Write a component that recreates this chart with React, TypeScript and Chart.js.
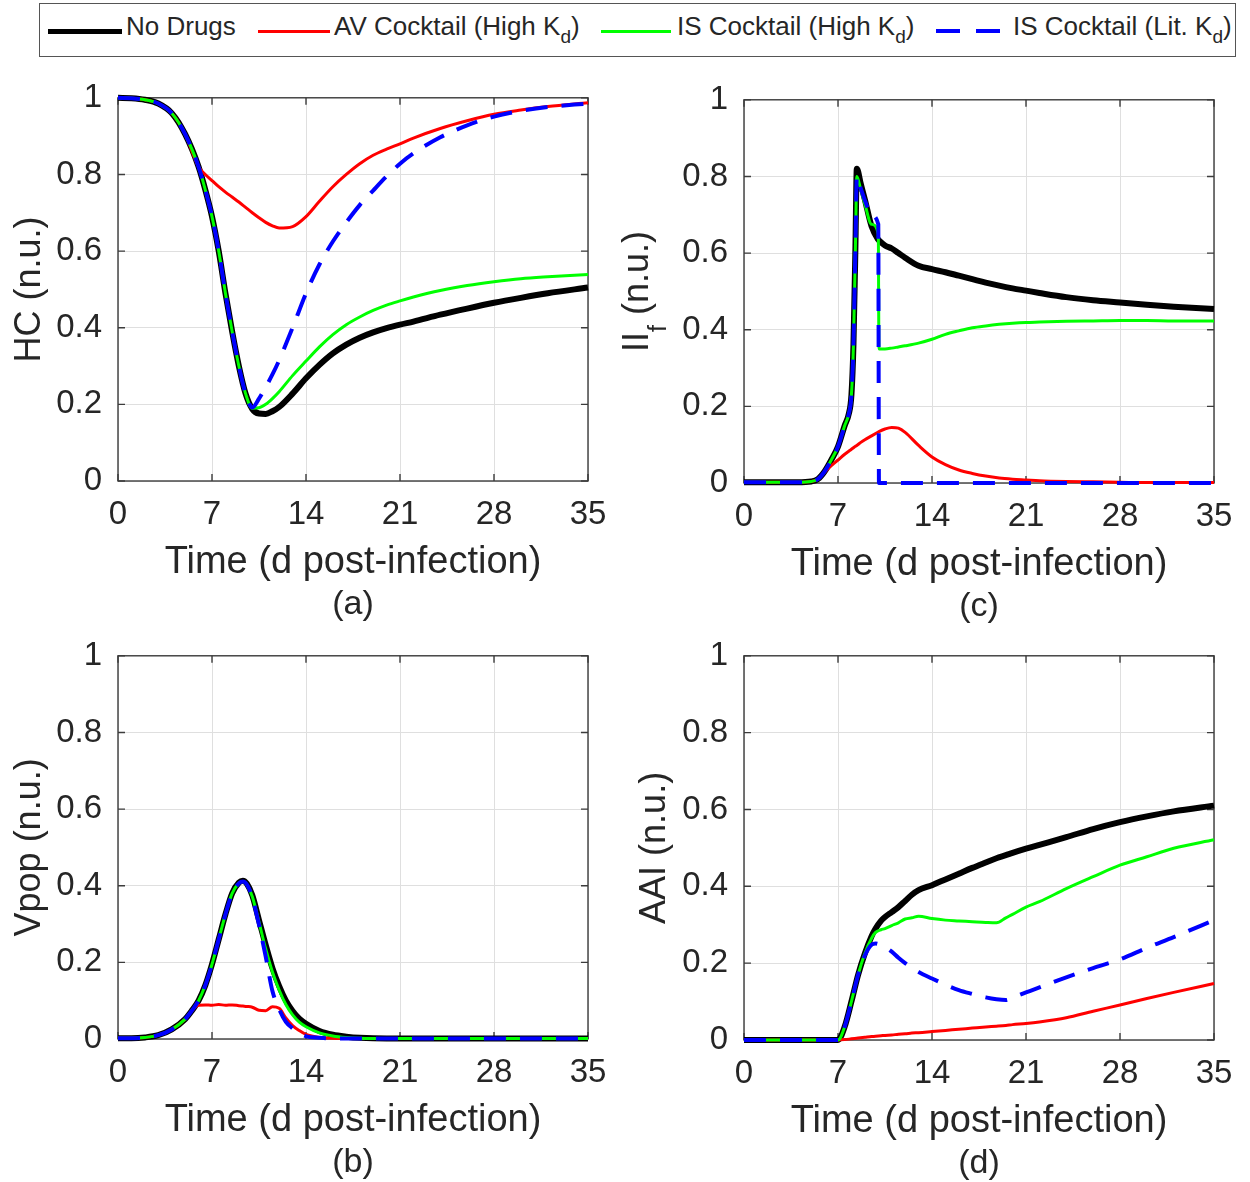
import React, { useEffect, useRef } from 'react';
import { Chart, registerables } from 'chart.js';

Chart.register(...registerables);

const FONT = '"Liberation Sans", Arial, Helvetica, sans-serif';
const TEXT_COLOR = '#262626';
const GRID_COLOR = '#dfdfdf';
const BOX_COLOR = '#3c3c3c';

// ---------- shared labels ----------
const xTickLabels = ['0', '7', '14', '21', '28', '35'];
const yTickLabels = ['0', '0.2', '0.4', '0.6', '0.8', '1'];
const xAxisTitle = 'Time (d post-infection)';
const seriesNames = ['No Drugs', 'AV Cocktail (High Kd)', 'IS Cocktail (High Kd)', 'IS Cocktail (Lit. Kd)'];
const legendMain = ['No Drugs', 'AV Cocktail (High K', 'IS Cocktail (High K', 'IS Cocktail (Lit. K'];
const legendSub = ['', 'd', 'd', 'd'];
const legendTail = ['', ')', ')', ')'];
const seriesColors = ['#000000', '#ff0000', '#00ff00', '#0000ff'];
const lineWidths = [6, 3, 3, 4];
const lineDashes: number[][] = [[], [], [], [22, 14]];
const drawOrder = [4, 3, 2, 1];

// ---------- panel (a): HC ----------
const hcTime = [0, 1, 2, 3, 4, 5, 6, 6.5, 7, 7.5, 8, 8.5, 9, 9.5, 10, 10.5, 11, 11.5, 12, 13, 14, 15, 16, 17, 18, 19, 20, 21, 22, 24, 26, 28, 30, 32, 35];
const hcNoDrugs = [1.0, 0.999, 0.995, 0.985, 0.96, 0.905, 0.82, 0.76, 0.69, 0.6, 0.49, 0.39, 0.3, 0.228, 0.188, 0.176, 0.175, 0.182, 0.193, 0.228, 0.268, 0.303, 0.333, 0.356, 0.374, 0.388, 0.399, 0.408, 0.416, 0.434, 0.45, 0.465, 0.478, 0.49, 0.505];
const hcAV = [1.0, 0.999, 0.995, 0.985, 0.96, 0.905, 0.82, 0.8, 0.784, 0.768, 0.754, 0.741, 0.728, 0.714, 0.7, 0.687, 0.675, 0.666, 0.66, 0.664, 0.69, 0.73, 0.768, 0.8, 0.828, 0.85, 0.866, 0.88, 0.895, 0.92, 0.94, 0.957, 0.968, 0.977, 0.987];
const hcISHigh = [1.0, 0.999, 0.995, 0.985, 0.96, 0.905, 0.82, 0.76, 0.69, 0.6, 0.49, 0.39, 0.3, 0.228, 0.19, 0.191, 0.2, 0.215, 0.233, 0.275, 0.313, 0.35, 0.382, 0.408, 0.428, 0.445, 0.459, 0.47, 0.48, 0.497, 0.51, 0.52, 0.528, 0.533, 0.539];
const hcISLit = [1.0, 0.999, 0.995, 0.985, 0.96, 0.905, 0.82, 0.76, 0.69, 0.6, 0.49, 0.39, 0.3, 0.228, 0.192, 0.215, 0.245, 0.278, 0.315, 0.4, 0.49, 0.565, 0.625, 0.675, 0.72, 0.758, 0.795, 0.828, 0.855, 0.897, 0.928, 0.951, 0.966, 0.976, 0.985];

// ---------- panel (c): II_f ----------
const iiTime = [0, 1, 2, 3, 4, 5, 5.5, 6, 6.5, 7, 7.5, 7.8, 8, 8.15, 8.3, 8.4, 8.7, 9, 9.5, 10, 10.05, 10.5, 11, 11.5, 12, 13, 14, 15, 16, 17, 18, 19, 20, 21, 22, 24, 26, 28, 30, 32, 35];
const iiNoDrugs = [0.002, 0.002, 0.002, 0.002, 0.002, 0.004, 0.01, 0.03, 0.06, 0.095, 0.15, 0.18, 0.23, 0.36, 0.62, 0.82, 0.78, 0.74, 0.67, 0.635, 0.633, 0.62, 0.612, 0.6, 0.588, 0.567, 0.558, 0.55, 0.541, 0.532, 0.523, 0.515, 0.508, 0.502, 0.496, 0.485, 0.477, 0.471, 0.465, 0.46, 0.454];
const iiAV = [0.002, 0.002, 0.002, 0.002, 0.002, 0.004, 0.01, 0.028, 0.045, 0.06, 0.075, 0.083, 0.088, 0.092, 0.096, 0.098, 0.106, 0.113, 0.123, 0.133, 0.134, 0.141, 0.145, 0.143, 0.132, 0.098, 0.068, 0.048, 0.034, 0.025, 0.018, 0.013, 0.01, 0.008, 0.006, 0.004, 0.003, 0.002, 0.001, 0.001, 0.001];
const iiISHigh = [0.002, 0.002, 0.002, 0.002, 0.002, 0.004, 0.01, 0.03, 0.06, 0.095, 0.15, 0.18, 0.23, 0.36, 0.62, 0.8, 0.765, 0.728, 0.675, 0.65, 0.35, 0.35, 0.352, 0.355, 0.358, 0.365, 0.375, 0.388, 0.397, 0.405, 0.41, 0.414, 0.417, 0.419, 0.42, 0.422, 0.423, 0.424, 0.424, 0.423, 0.423];
const iiISLit = [0.002, 0.002, 0.002, 0.002, 0.002, 0.004, 0.01, 0.03, 0.06, 0.095, 0.15, 0.18, 0.23, 0.36, 0.62, 0.8, 0.768, 0.738, 0.698, 0.675, 0, 0, 0, 0, 0, 0, 0, 0, 0, 0, 0, 0, 0, 0, 0, 0, 0, 0, 0, 0, 0];

// ---------- panel (b): Vpop ----------
const vTime = [0, 1, 2, 3, 4, 5, 5.5, 6, 6.5, 7, 7.5, 8, 8.5, 9, 9.3, 9.6, 10, 10.5, 11, 11.5, 12, 12.5, 13, 13.5, 14, 15, 16, 17, 18, 20, 22, 25, 28, 31, 35];
const vNoDrugs = [0.002, 0.002, 0.004, 0.01, 0.025, 0.052, 0.074, 0.1, 0.14, 0.195, 0.26, 0.325, 0.38, 0.408, 0.413, 0.405, 0.375, 0.31, 0.245, 0.185, 0.138, 0.1, 0.073, 0.053, 0.04, 0.021, 0.011, 0.006, 0.003, 0.001, 0.001, 0.001, 0.001, 0.001, 0.001];
const vAV = [0.002, 0.002, 0.004, 0.01, 0.025, 0.052, 0.074, 0.088, 0.089, 0.088, 0.09, 0.088, 0.089, 0.087, 0.086, 0.085, 0.083, 0.075, 0.074, 0.084, 0.08, 0.055, 0.035, 0.022, 0.012, 0.004, 0.002, 0.001, 0.001, 0.001, 0.001, 0.001, 0.001, 0.001, 0.001];
const vISHigh = [0.002, 0.002, 0.004, 0.01, 0.025, 0.052, 0.074, 0.1, 0.14, 0.195, 0.26, 0.325, 0.38, 0.406, 0.411, 0.403, 0.372, 0.305, 0.235, 0.175, 0.128, 0.09, 0.063, 0.044, 0.032, 0.016, 0.008, 0.004, 0.002, 0.001, 0.001, 0.001, 0.001, 0.001, 0.001];
const vISLit = [0.002, 0.002, 0.004, 0.01, 0.025, 0.052, 0.074, 0.1, 0.14, 0.195, 0.26, 0.325, 0.38, 0.406, 0.411, 0.403, 0.37, 0.298, 0.215, 0.125, 0.078, 0.045, 0.028, 0.015, 0.007, 0.003, 0.001, 0.001, 0.001, 0.001, 0.001, 0.001, 0.001, 0.001, 0.001];

// ---------- panel (d): AAI ----------
const aTime = [0, 1, 2, 3, 4, 5, 6, 7, 7.5, 8, 8.5, 9, 9.5, 9.8, 10.2, 10.5, 11, 11.5, 12, 12.5, 13, 14, 15, 16, 17, 18, 18.8, 19.5, 20, 21, 22, 24, 26, 28, 30, 32, 35];
const aNoDrugs = [0, 0, 0, 0, 0, 0, 0, 0, 0.035, 0.1, 0.17, 0.225, 0.27, 0.29, 0.31, 0.32, 0.333, 0.346, 0.362, 0.378, 0.39, 0.403, 0.418, 0.433, 0.448, 0.462, 0.473, 0.481, 0.487, 0.498, 0.508, 0.528, 0.549, 0.567, 0.582, 0.595, 0.61];
const aAV = [0, 0, 0, 0, 0, 0, 0, 0, 0.001, 0.003, 0.005, 0.007, 0.009, 0.01, 0.011, 0.012, 0.013, 0.015, 0.016, 0.018, 0.019, 0.022, 0.025, 0.028, 0.031, 0.034, 0.036, 0.038, 0.04, 0.043, 0.047, 0.058, 0.075, 0.091, 0.108, 0.124, 0.147];
const aISHigh = [0, 0, 0, 0, 0, 0, 0, 0, 0.035, 0.1, 0.17, 0.225, 0.265, 0.28, 0.287, 0.29, 0.298, 0.305, 0.315, 0.318, 0.322, 0.316, 0.312, 0.31, 0.308, 0.306, 0.305, 0.318, 0.327, 0.346, 0.36, 0.394, 0.425, 0.455, 0.477, 0.499, 0.521];
const aISLit = [0, 0, 0, 0, 0, 0, 0, 0, 0.035, 0.1, 0.17, 0.22, 0.248, 0.251, 0.247, 0.242, 0.23, 0.214, 0.2, 0.188, 0.177, 0.16, 0.144, 0.13, 0.12, 0.111, 0.106, 0.104, 0.11, 0.124, 0.137, 0.163, 0.187, 0.21, 0.24, 0.268, 0.312];

type TitlePart = { text: string; sub?: boolean };
type Panel = {
  letter: string;
  left: number;
  top: number;
  width: number;
  height: number;
  yAxisW: number;
  padRight: number;
  padTop: number;
  xAxisH: number;
  yTitleBaseline: number;
  yTitle: TitlePart[];
  time: number[];
  series: number[][];
};

const panels: Panel[] = [
  {
    letter: '(a)', left: 0, top: 62, width: 625, height: 560, yAxisW: 118, padRight: 37, padTop: 35, xAxisH: 141,
    yTitleBaseline: 40, yTitle: [{ text: 'HC (n.u.)' }],
    time: hcTime, series: [hcNoDrugs, hcAV, hcISHigh, hcISLit],
  },
  {
    letter: '(c)', left: 600, top: 64, width: 650, height: 560, yAxisW: 144, padRight: 36, padTop: 35, xAxisH: 141,
    yTitleBaseline: 48, yTitle: [{ text: 'II' }, { text: 'f', sub: true }, { text: ' (n.u.)' }],
    time: iiTime, series: [iiNoDrugs, iiAV, iiISHigh, iiISLit],
  },
  {
    letter: '(b)', left: 0, top: 620, width: 625, height: 560, yAxisW: 118, padRight: 37, padTop: 35, xAxisH: 141,
    yTitleBaseline: 40, yTitle: [{ text: 'Vpop (n.u.)' }],
    time: vTime, series: [vNoDrugs, vAV, vISHigh, vISLit],
  },
  {
    letter: '(d)', left: 600, top: 620, width: 650, height: 560, yAxisW: 144, padRight: 36, padTop: 35, xAxisH: 140,
    yTitleBaseline: 65, yTitle: [{ text: 'AAI (n.u.)' }],
    time: aTime, series: [aNoDrugs, aAV, aISHigh, aISLit],
  },
];

const framePlugin = {
  id: 'matlabFrame',
  beforeDatasetsDraw(chart: any) {
    const { ctx, chartArea: a, scales } = chart;
    ctx.save();
    ctx.strokeStyle = BOX_COLOR;
    ctx.lineWidth = 1.4;
    ctx.strokeRect(a.left, a.top, a.right - a.left, a.bottom - a.top);
    const L = 7;
    ctx.beginPath();
    scales.x.ticks.forEach((t: any) => {
      const px = scales.x.getPixelForValue(t.value);
      ctx.moveTo(px, a.bottom);
      ctx.lineTo(px, a.bottom - L);
      ctx.moveTo(px, a.top);
      ctx.lineTo(px, a.top + L);
    });
    scales.y.ticks.forEach((t: any) => {
      const py = scales.y.getPixelForValue(t.value);
      ctx.moveTo(a.left, py);
      ctx.lineTo(a.left + L, py);
      ctx.moveTo(a.right, py);
      ctx.lineTo(a.right - L, py);
    });
    ctx.stroke();
    ctx.restore();
  },
};

function makeTextPlugin(p: Panel) {
  return {
    id: 'panelText',
    afterDraw(chart: any) {
      const { ctx, chartArea: a } = chart;
      ctx.save();
      ctx.fillStyle = TEXT_COLOR;
      ctx.textBaseline = 'alphabetic';
      ctx.textAlign = 'center';
      const cx = (a.left + a.right) / 2;
      ctx.font = `38px ${FONT}`;
      ctx.fillText(xAxisTitle, cx, a.bottom + 92);
      ctx.font = `34px ${FONT}`;
      ctx.fillText(p.letter, cx, a.bottom + 133);

      const cy = (a.top + a.bottom) / 2;
      ctx.translate(p.yTitleBaseline, cy);
      ctx.rotate(-Math.PI / 2);
      ctx.textAlign = 'left';
      const fontFor = (part: TitlePart) => `${part.sub ? 25 : 36}px ${FONT}`;
      const widths = p.yTitle.map((part) => {
        ctx.font = fontFor(part);
        return ctx.measureText(part.text).width;
      });
      let x = -widths.reduce((s, w) => s + w, 0) / 2;
      p.yTitle.forEach((part, i) => {
        ctx.font = fontFor(part);
        ctx.fillText(part.text, x, part.sub ? 18 : 0);
        x += widths[i];
      });
      ctx.restore();
    },
  };
}

function PanelChart({ panel }: { panel: Panel }) {
  const ref = useRef<HTMLCanvasElement>(null);
  useEffect(() => {
    const canvas = ref.current;
    if (!canvas) return;
    const datasets = panel.series.map((vals, i) => ({
      label: seriesNames[i],
      data: panel.time.map((t, j) => ({ x: t, y: vals[j] })),
      borderColor: seriesColors[i],
      backgroundColor: seriesColors[i],
      borderWidth: lineWidths[i],
      borderDash: lineDashes[i],
      order: drawOrder[i],
      pointRadius: 0,
      pointHoverRadius: 0,
      fill: false,
      cubicInterpolationMode: 'monotone' as const,
      borderCapStyle: 'butt' as const,
      borderJoinStyle: 'round' as const,
      clip: 6,
    }));
    const tickFont = { family: FONT, size: 33 };
    const chart = new Chart(canvas, {
      type: 'line',
      data: { datasets },
      options: {
        animation: false,
        responsive: false,
        devicePixelRatio: 1,
        events: [],
        layout: { padding: { left: 0, top: panel.padTop, right: panel.padRight, bottom: 0 } },
        plugins: { legend: { display: false }, tooltip: { enabled: false }, title: { display: false } },
        scales: {
          x: {
            type: 'linear',
            min: 0,
            max: 35,
            ticks: {
              stepSize: 7,
              autoSkip: false,
              maxRotation: 0,
              padding: 14,
              color: TEXT_COLOR,
              font: tickFont,
              callback: (_v: any, i: number) => xTickLabels[i],
            },
            grid: { color: GRID_COLOR, lineWidth: 1, drawTicks: false },
            border: { display: false },
            afterFit: (s: any) => { s.height = panel.xAxisH; },
          },
          y: {
            type: 'linear',
            min: 0,
            max: 1,
            ticks: {
              stepSize: 0.2,
              autoSkip: false,
              padding: 16,
              color: TEXT_COLOR,
              font: tickFont,
              callback: (_v: any, i: number) => yTickLabels[i],
            },
            grid: { color: GRID_COLOR, lineWidth: 1, drawTicks: false },
            border: { display: false },
            afterFit: (s: any) => { s.width = panel.yAxisW; },
          },
        },
      } as any,
      plugins: [framePlugin, makeTextPlugin(panel)],
    });
    return () => chart.destroy();
  }, [panel]);
  return (
    <canvas
      ref={ref}
      width={panel.width}
      height={panel.height}
      style={{ position: 'absolute', left: panel.left, top: panel.top, width: panel.width, height: panel.height }}
    />
  );
}

const legendLineLeft = [8, 218, 561, 896];
const legendLineWidth = [74, 72, 70, 64];
const legendLineThickness = [5, 3, 3, 3.5];
const legendTextLeft = [86, 294, 637, 973];

function Legend() {
  return (
    <div
      style={{
        position: 'absolute', left: 39, top: 3, width: 1197, height: 54, boxSizing: 'border-box',
        border: '1.5px solid #555', background: '#fff', fontFamily: FONT, color: TEXT_COLOR,
      }}
    >
      {legendMain.map((m, i) => (
        <React.Fragment key={i}>
          <div
            style={{
              position: 'absolute', left: legendLineLeft[i], top: 27 - legendLineThickness[i] / 2,
              width: legendLineWidth[i], height: legendLineThickness[i],
              background: i === 3
                ? `repeating-linear-gradient(to right, ${seriesColors[i]} 0px, ${seriesColors[i]} 24px, transparent 24px, transparent 40px)`
                : seriesColors[i],
            }}
          />
          <div
            style={{
              position: 'absolute', left: legendTextLeft[i], top: 9, fontSize: 26, lineHeight: '26px', whiteSpace: 'nowrap',
            }}
          >
            {m}
            {legendSub[i] ? <span style={{ fontSize: 19, position: 'relative', top: 8 }}>{legendSub[i]}</span> : null}
            {legendTail[i]}
          </div>
        </React.Fragment>
      ))}
    </div>
  );
}

export default function App() {
  return (
    <div style={{ position: 'absolute', left: 0, top: 0, width: 1250, height: 1182, background: '#fff', overflow: 'hidden' }}>
      {panels.map((p) => (
        <PanelChart key={p.letter} panel={p} />
      ))}
      <Legend />
    </div>
  );
}
